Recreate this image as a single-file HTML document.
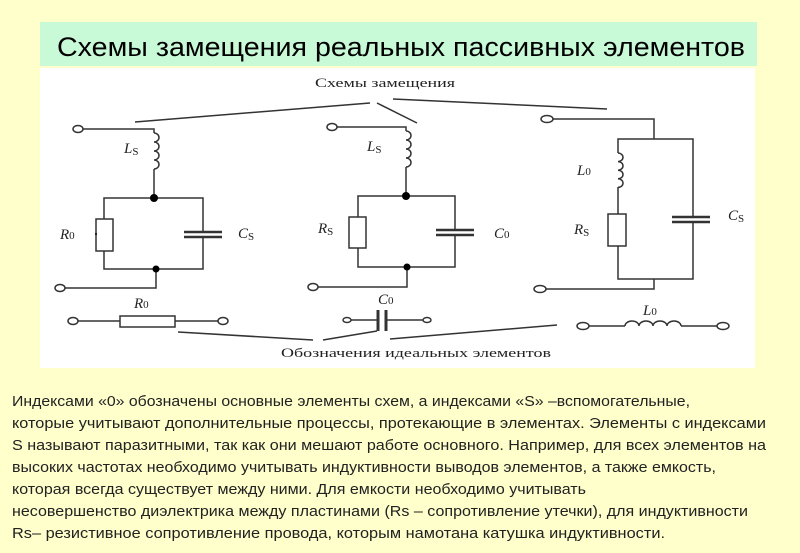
<!DOCTYPE html>
<html><head><meta charset="utf-8"><style>
html,body{margin:0;padding:0;background:#ffffcc;}
svg{display:block}
.s{font-family:"Liberation Serif","DejaVu Serif",serif;}
.i{font-family:"Liberation Serif",serif;font-style:italic;font-size:15px;}
.sub{font-style:normal;font-size:11px;}
.t{font-family:"Liberation Sans Narrow","Liberation Sans",sans-serif;font-size:14.5px;fill:#222;}
</style></head><body>
<svg width="800" height="553" viewBox="0 0 800 553" xmlns="http://www.w3.org/2000/svg">
<rect width="800" height="553" fill="#ffffcc"/>
<rect x="40" y="22" width="717" height="44" fill="#c8fad8"/>
<text x="401" y="56" text-anchor="middle" font-family="Liberation Sans Narrow, Liberation Sans, sans-serif" font-size="27" fill="#000" textLength="688" lengthAdjust="spacingAndGlyphs">Схемы замещения реальных пассивных элементов</text>
<rect x="40" y="68" width="715" height="300" fill="#fff"/>

<g stroke="#333" stroke-width="1.5" fill="none">
<!-- top label lines -->
<line x1="135" y1="122" x2="370" y2="103"/>
<line x1="377" y1="103" x2="417" y2="123"/>
<line x1="393" y1="99" x2="607" y2="109"/>
<!-- bottom label lines -->
<line x1="178" y1="332" x2="313" y2="340"/>
<line x1="323" y1="340" x2="377" y2="331"/>
<line x1="390" y1="339" x2="557" y2="325"/>

<!-- Circuit 1 -->
<ellipse cx="78" cy="129" rx="5" ry="3.5"/>
<polyline points="83,129 154,129 154,133"/>
<path d="M154,133 a5,4.5 0 0 1 0,9 a5,4.5 0 0 1 0,9 a5,4.5 0 0 1 0,9 a5,4.5 0 0 1 0,9"/>
<line x1="154" y1="169" x2="154" y2="198"/>
<polyline points="104,219 104,198 203,198 203,232"/>
<polyline points="104,251 104,269 203,269 203,237"/>
<rect x="96" y="219" width="17" height="32"/>
<line x1="184" y1="232" x2="222" y2="232" stroke-width="2.5"/>
<line x1="184" y1="237" x2="222" y2="237" stroke-width="2.5"/>
<polyline points="156,269 156,288 65,288"/>
<ellipse cx="60" cy="288" rx="5" ry="3.5"/>

<!-- Circuit 2 -->
<ellipse cx="332" cy="127" rx="5" ry="3.5"/>
<polyline points="337,127 406,127 406,131"/>
<path d="M406,131 a5,4.5 0 0 1 0,9 a5,4.5 0 0 1 0,9 a5,4.5 0 0 1 0,9 a5,4.5 0 0 1 0,9"/>
<line x1="406" y1="167" x2="406" y2="196"/>
<polyline points="358,217 358,196 455,196 455,230"/>
<polyline points="358,248 358,267 455,267 455,235"/>
<rect x="349" y="217" width="17" height="31"/>
<line x1="436" y1="230" x2="474" y2="230" stroke-width="2.5"/>
<line x1="436" y1="235" x2="474" y2="235" stroke-width="2.5"/>
<polyline points="407,267 407,287 318,287"/>
<ellipse cx="313" cy="287" rx="5" ry="3.5"/>

<!-- Circuit 3 -->
<ellipse cx="547" cy="119" rx="6" ry="3.5"/>
<polyline points="553,119 654,119 654,139"/>
<polyline points="618,153 618,139 693,139 693,217"/>
<path d="M618,153 a5,4.3 0 0 1 0,8.6 a5,4.3 0 0 1 0,8.6 a5,4.3 0 0 1 0,8.6 a5,4.3 0 0 1 0,8.6"/>
<line x1="618" y1="187" x2="618" y2="214"/>
<rect x="608" y="214" width="18" height="32"/>
<polyline points="618,246 618,279 693,279 693,222"/>
<line x1="672" y1="217" x2="710" y2="217" stroke-width="2.5"/>
<line x1="672" y1="222" x2="710" y2="222" stroke-width="2.5"/>
<polyline points="654,279 654,289 546,289"/>
<ellipse cx="540" cy="289" rx="6" ry="3.5"/>

<!-- Ideal R -->
<ellipse cx="73" cy="321" rx="5" ry="3.5"/>
<line x1="78" y1="321" x2="120" y2="321"/>
<rect x="120" y="316" width="55" height="11"/>
<line x1="175" y1="321" x2="218" y2="321"/>
<ellipse cx="223" cy="321" rx="5" ry="3.5"/>
<!-- Ideal C -->
<ellipse cx="347" cy="320" rx="4" ry="2.5"/>
<line x1="351" y1="320" x2="378" y2="320"/>
<line x1="378" y1="310" x2="378" y2="331" stroke-width="3"/>
<line x1="386" y1="310" x2="386" y2="331" stroke-width="3"/>
<line x1="386" y1="320" x2="423" y2="320"/>
<ellipse cx="427" cy="320" rx="4" ry="2.5"/>
<!-- Ideal L -->
<ellipse cx="583" cy="326" rx="6" ry="3.5"/>
<line x1="589" y1="326" x2="625" y2="326"/>
<path d="M625,326 a7,5 0 0 1 14,0 a7,5 0 0 1 14,0 a7,5 0 0 1 14,0 a7,5 0 0 1 14,0"/>
<line x1="681" y1="326" x2="717" y2="326"/>
<ellipse cx="723" cy="326" rx="6" ry="3.5"/>
</g>
<g fill="#000">
<circle cx="154" cy="198" r="4"/><circle cx="156" cy="269" r="3.5"/>
<circle cx="406" cy="196" r="4"/><circle cx="407" cy="267" r="3.5"/>
<circle cx="96" cy="234" r="1"/>
</g>

<g class="s" font-size="13" fill="#222" text-anchor="middle">
<text x="385" y="87" textLength="140" lengthAdjust="spacingAndGlyphs">Схемы замещения</text>
<text x="416" y="357" textLength="270" lengthAdjust="spacingAndGlyphs">Обозначения идеальных элементов</text>
</g>
<g class="i" fill="#222">
<text x="124" y="153">L<tspan class="sub" dy="2">S</tspan></text>
<text x="60" y="239">R<tspan class="sub">0</tspan></text>
<text x="238" y="238">C<tspan class="sub" dy="2">S</tspan></text>
<text x="367" y="151">L<tspan class="sub" dy="2">S</tspan></text>
<text x="318" y="233">R<tspan class="sub" dy="2">S</tspan></text>
<text x="494" y="238">C<tspan class="sub">0</tspan></text>
<text x="577" y="175">L<tspan class="sub">0</tspan></text>
<text x="574" y="234">R<tspan class="sub" dy="2">S</tspan></text>
<text x="728" y="220">C<tspan class="sub" dy="2">S</tspan></text>
<text x="134" y="308">R<tspan class="sub">0</tspan></text>
<text x="378" y="304">C<tspan class="sub">0</tspan></text>
<text x="643" y="315">L<tspan class="sub">0</tspan></text>
</g>

<g class="t">
<text x="12" y="406" textLength="678" lengthAdjust="spacingAndGlyphs">Индексами «0» обозначены основные элементы схем, а индексами «S» –вспомогательные,</text>
<text x="12" y="428" textLength="754" lengthAdjust="spacingAndGlyphs">которые учитывают дополнительные процессы, протекающие в элементах. Элементы с индексами</text>
<text x="12" y="450" textLength="754" lengthAdjust="spacingAndGlyphs">S называют паразитными, так как они мешают работе основного. Например, для всех элементов на</text>
<text x="12" y="472" textLength="704" lengthAdjust="spacingAndGlyphs">высоких частотах необходимо учитывать индуктивности выводов элементов, а также емкость,</text>
<text x="12" y="494" textLength="574" lengthAdjust="spacingAndGlyphs">которая всегда существует между ними. Для емкости необходимо учитывать</text>
<text x="12" y="516" textLength="736" lengthAdjust="spacingAndGlyphs">несовершенство диэлектрика между пластинами (Rs – сопротивление утечки), для индуктивности</text>
<text x="12" y="538" textLength="653" lengthAdjust="spacingAndGlyphs">Rs– резистивное сопротивление провода, которым намотана катушка индуктивности.</text>
</g>
</svg>
</body></html>
